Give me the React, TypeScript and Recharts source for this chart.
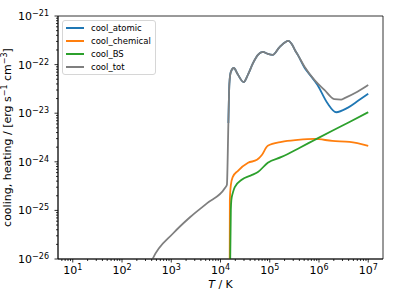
import { LineChart, Line, XAxis, YAxis, ReferenceArea, Legend } from 'recharts'

// log10(T / K) against log10(rate / erg s^-1 cm^-3)
const coolAtomic: [number, number][] = [
  [4.16, -23.2], [4.18, -22.4], [4.21, -22.15], [4.27, -22.07], [4.35, -22.2],
  [4.47, -22.36], [4.56, -22.2], [4.66, -21.97], [4.76, -21.8], [4.86, -21.74],
  [4.96, -21.78], [5.06, -21.8], [5.2, -21.64], [5.38, -21.51], [5.45, -21.58],
  [5.51, -21.7], [5.57, -21.8], [5.71, -22.07], [5.77, -22.15], [5.97, -22.42],
  [6.17, -22.79], [6.35, -22.98], [6.58, -22.89], [6.8, -22.74], [7.0, -22.6],
]
const coolChemical: [number, number][] = [
  [4.185, -27], [4.19, -24.79], [4.21, -24.48], [4.25, -24.31], [4.35, -24.19],
  [4.56, -24.02], [4.74, -23.96], [4.84, -23.86], [4.96, -23.67], [5.24, -23.59],
  [5.57, -23.55], [5.91, -23.53], [6.27, -23.57], [6.62, -23.59], [7.0, -23.67],
]
const coolBS: [number, number][] = [
  [4.185, -27], [4.21, -24.99], [4.22, -24.79], [4.25, -24.64], [4.29, -24.52],
  [4.43, -24.37], [4.64, -24.27], [4.76, -24.21], [4.96, -24.02], [5.24, -23.9],
  [5.61, -23.71], [5.91, -23.55], [6.27, -23.36], [6.62, -23.18], [7.0, -22.98],
]
const coolTot: [number, number][] = [
  [2.5, -26.3], [2.62, -26.0], [3.04, -25.47], [3.38, -25.14], [3.73, -24.85],
  [4.09, -24.54], [4.13, -24.47], [4.16, -23.2], [4.18, -22.4], [4.21, -22.15],
  [4.27, -22.07], [4.35, -22.2], [4.47, -22.36], [4.56, -22.2], [4.66, -21.97],
  [4.76, -21.8], [4.86, -21.74], [4.96, -21.78], [5.06, -21.8], [5.2, -21.64],
  [5.38, -21.51], [5.45, -21.58], [5.51, -21.7], [5.57, -21.8], [5.71, -22.05],
  [5.91, -22.32], [6.11, -22.52], [6.31, -22.71], [6.45, -22.72], [6.52, -22.69],
  [6.78, -22.56], [7.0, -22.42],
]

const xMajor = [1, 2, 3, 4, 5, 6, 7]
const yMajor = [-26, -25, -24, -23, -22, -21]
const xDomain: [number, number] = [0.7, 7.3]
const yDomain: [number, number] = [-26, -21]

const series = [
  { name: 'cool_atomic', color: '#1f77b4', data: coolAtomic },
  { name: 'cool_chemical', color: '#ff7f0e', data: coolChemical },
  { name: 'cool_BS', color: '#2ca02c', data: coolBS },
  { name: 'cool_tot', color: '#7f7f7f', data: coolTot },
]

const FONT = '"DejaVu Sans", sans-serif'

function logTicks(major: number[], [lo, hi]: [number, number]) {
  const out: number[] = []
  for (let d = Math.floor(lo); d <= Math.ceil(hi); d++) {
    for (let m = 1; m <= 9; m++) {
      const v = d + Math.log10(m)
      if (v >= lo - 1e-9 && v <= hi + 1e-9) out.push(v)
    }
  }
  return out.concat(major.filter((v) => !out.includes(v)))
}

const isMajor = (v: number) => Math.abs(v - Math.round(v)) < 1e-6
const expLabel = (v: number) => String(Math.round(v)).replace('-', '\u2212')

function XTick({ x, y, payload }: any) {
  const major = isMajor(payload.value)
  return (
    <g>
      <line x1={x} y1={y} x2={x} y2={y + (major ? 3.5 : 2)} stroke="#000" strokeWidth={0.8} />
      {major && (
        <text x={x} y={y + 15} textAnchor="middle" fontSize={11} fontFamily={FONT} fill="#000">
          10<tspan dy={-4} fontSize={8}>{expLabel(payload.value)}</tspan>
        </text>
      )}
    </g>
  )
}

function YTick({ x, y, payload }: any) {
  const major = isMajor(payload.value)
  return (
    <g>
      <line x1={x} y1={y} x2={x - (major ? 3.5 : 2)} y2={y} stroke="#000" strokeWidth={0.8} />
      {major && (
        <text x={x - 9} y={y + 4} textAnchor="end" fontSize={11} fontFamily={FONT} fill="#000">
          10<tspan dy={-4} fontSize={8}>{expLabel(payload.value)}</tspan>
        </text>
      )}
    </g>
  )
}

function LegendBox() {
  return (
    <div
      style={{
        border: '1px solid #d6d6d6',
        borderRadius: 3,
        background: 'rgba(255,255,255,0.8)',
        padding: '1px 4px 1px 3px',
        fontFamily: FONT,
        fontSize: 8.5,
        color: '#000',
      }}
    >
      {series.map((s) => (
        <div key={s.name} style={{ display: 'flex', alignItems: 'center', height: 12.8 }}>
          <span style={{ width: 18, height: 2, background: s.color, marginRight: 7 }} />
          {s.name}
        </div>
      ))}
    </div>
  )
}

export default function App() {
  return (
    <div style={{ position: 'relative', width: 399, height: 299, background: '#fff' }}>
      <style>{'body{margin:0}'}</style>
      <LineChart width={399} height={299} margin={{ top: 16, right: 16, left: 0, bottom: 0 }}>
        <XAxis
          type="number"
          dataKey="x"
          domain={xDomain}
          allowDataOverflow
          ticks={logTicks(xMajor, xDomain)}
          interval={0}
          tick={<XTick />}
          tickLine={false}
          tickSize={0}
          tickMargin={0}
          height={40}
          axisLine={{ stroke: '#000', strokeWidth: 0.8 }}
          label={({ viewBox }: any) => (
            <text
              x={viewBox.x + viewBox.width / 2}
              y={288}
              textAnchor="middle"
              fontSize={11}
              fontFamily={FONT}
              fill="#000"
            >
              <tspan fontStyle="italic">T</tspan> / K
            </text>
          )}
        />
        <YAxis
          type="number"
          dataKey="y"
          domain={yDomain}
          allowDataOverflow
          ticks={logTicks(yMajor, yDomain)}
          interval={0}
          tick={<YTick />}
          tickLine={false}
          tickSize={0}
          tickMargin={0}
          width={58}
          axisLine={{ stroke: '#000', strokeWidth: 0.8 }}
          label={({ viewBox }: any) => {
            const cy = viewBox.y + viewBox.height / 2
            return (
              <text
                x={11}
                y={cy}
                transform={`rotate(-90 11 ${cy})`}
                textAnchor="middle"
                fontSize={11}
                fontFamily={FONT}
                fill="#000"
              >
                cooling, heating / [erg s<tspan dy={-4} fontSize={8}>{'\u22121'}</tspan>
                <tspan dy={4}> cm</tspan>
                <tspan dy={-4} fontSize={8}>{'\u22123'}</tspan>
                <tspan dy={4}>]</tspan>
              </text>
            )
          }}
        />
        <ReferenceArea
          x1={xDomain[0]}
          x2={xDomain[1]}
          y1={yDomain[0]}
          y2={yDomain[1]}
          fill="none"
          stroke="#000"
          strokeWidth={0.8}
        />
        {series.map((s) => (
          <Line
            key={s.name}
            type="monotone"
            data={s.data.map(([x, y]) => ({ x, y }))}
            dataKey="y"
            name={s.name}
            stroke={s.color}
            strokeWidth={1.8}
            dot={false}
            isAnimationActive={false}
          />
        ))}
        <Legend
          layout="vertical"
          align="center"
          verticalAlign="middle"
          content={<LegendBox />}
          wrapperStyle={{ top: 20, left: 62, width: 'auto' }}
        />
      </LineChart>
    </div>
  )
}
